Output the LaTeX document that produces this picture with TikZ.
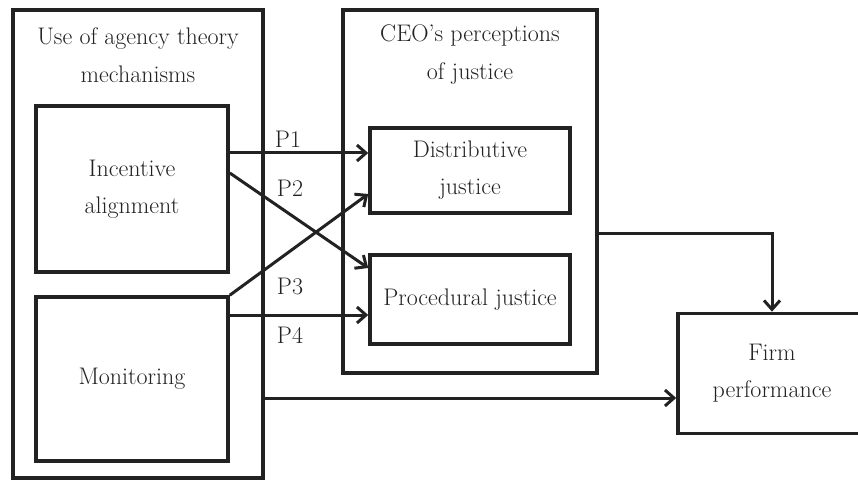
\documentclass[tikz,border=0pt]{standalone}
\usepackage{fontspec}
\usepackage{tikz}
\usetikzlibrary{arrows.meta,positioning}
\definecolor{inkdark}{HTML}{222222}
\tikzset{
  groupbox/.style={
    draw=inkdark,
    line width=3.6pt,
    inner sep=0pt
  },
  itembox/.style={
    draw=inkdark,
    line width=3.6pt,
    align=center,
    text=inkdark,
    inner sep=0pt,
    font=\fontsize{24}{37}\selectfont
  },
  grouptitle/.style={
    align=center,
    text=inkdark,
    inner sep=0pt,
    font=\fontsize{24}{38}\selectfont
  },
  plabel/.style={
    text=inkdark,
    inner sep=0pt,
    font=\fontsize{24}{26}\selectfont
  },
  link/.style={
    -{Straight Barb[length=9pt,width=16pt,line width=3pt]},
    line width=3pt,
    draw=inkdark
  }
}

\begin{document}
\begin{tikzpicture}[x=1pt,y=-1pt]
  \useasboundingbox (0,0) rectangle (858,481);
  \clip (0,0) rectangle (858,481);

  % outer groups
  \node[groupbox, minimum width=250pt, minimum height=468pt] (agency) at (138,244) {};
  \node[groupbox, minimum width=254pt, minimum height=363pt] (justice) at (470,191.5) {};

  \node[grouptitle] (agencytitle) at (138,55) {Use of agency theory\\mechanisms};
  \node[grouptitle] (justicetitle) at (470,55) {CEO's perceptions\\of justice};

  % inner boxes
  \node[itembox, minimum width=192pt, minimum height=166pt] (incentive) at (132,189) {Incentive\\alignment};
  \node[itembox, minimum width=192pt, minimum height=164pt] (monitoring) at (132,379) {Monitoring};
  \node[itembox, minimum width=200pt, minimum height=85pt] (distributive) at (470,170.5) {Distributive\\justice};
  \node[itembox, minimum width=200pt, minimum height=89pt] (procedural) at (470,299.5) {Procedural justice};
  \node[itembox, minimum width=188pt, minimum height=120pt] (firm) at (772,373.5) {Firm\\performance};

  % hypotheses
  \draw[link] ([yshift=36pt]incentive.east) -- ([yshift=17.5pt]distributive.west);
  \draw[link] ([yshift=16pt]incentive.east) -- ([yshift=31.5pt]procedural.west);
  \draw[link] (monitoring.north east) -- ([yshift=-23.5pt]distributive.west);
  \draw[link] ([yshift=64pt]monitoring.east) -- ([yshift=-15.5pt]procedural.west);

  \node[plabel] (p1) at (288,139) {P1};
  \node[plabel] (p2) at (290,188) {P2};
  \node[plabel] (p3) at (290,286) {P3};
  \node[plabel] (p4) at (290,335) {P4};

  % outcome links
  \coordinate (agencyout) at ([yshift=-154pt]agency.east);
  \draw[link] (agencyout) -- (agencyout -| firm.west);
  \draw[link] ([yshift=-41.5pt]justice.east) -| (firm.north);
\end{tikzpicture}
\end{document}
